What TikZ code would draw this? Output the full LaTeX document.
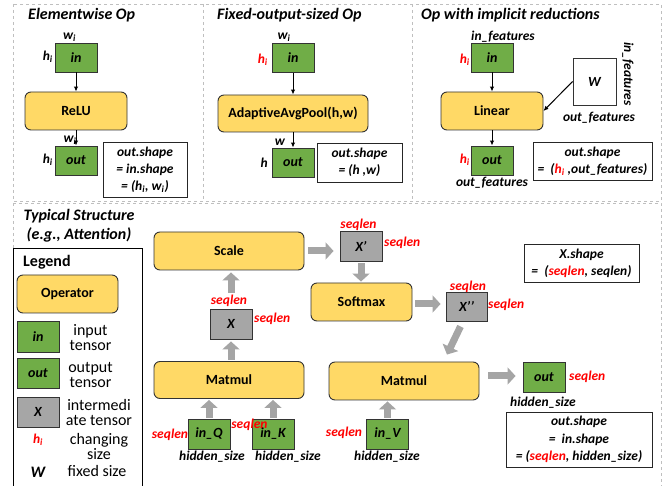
\documentclass[tikz,border=0pt]{standalone}
\usepackage{fontspec}
\setmainfont{Carlito}
\usetikzlibrary{arrows.meta,calc}
\definecolor{opy}{HTML}{FFD966}
\definecolor{tg}{HTML}{70AD47}
\definecolor{tx}{HTML}{A6A6A6}
\definecolor{ar}{HTML}{A5A5A5}
\definecolor{pb}{HTML}{BFBFBF}
\newcommand\hsub{h\textsubscript{i}}
\newcommand\wsub{w\textsubscript{i}}
\begin{document}
\begin{tikzpicture}[x=1pt,y=-1pt,
  box/.style={draw=black!80, line width=0.9pt, inner sep=0pt},
  op/.style={box, fill=opy, rounded corners=6pt, font=\bfseries\fontsize{14}{16}\selectfont},
  tin/.style={box, fill=tg, font=\bfseries\itshape\fontsize{14}{16}\selectfont, minimum width=42pt, minimum height=29pt},
  tmid/.style={tin, fill=tx},
  lbl/.style={inner sep=0pt, font=\bfseries\itshape\fontsize{13.5}{15}\selectfont},
  rl/.style={lbl, text=red},
  note/.style={draw=black!85, line width=0.8pt, fill=white, align=center, inner sep=0pt, font=\bfseries\itshape\fontsize{13.5}{17}\selectfont},
  ttl/.style={inner sep=0pt, font=\bfseries\itshape\fontsize{16}{19}\selectfont},
  desc/.style={inner sep=0pt, align=center, font=\fontsize{16}{15}\selectfont},
  thinar/.style={-{Latex[length=5pt,width=4.5pt]}, line width=1pt, black},
  blk/.style={line width=7pt, draw=ar, -{Triangle[length=8pt,width=17pt]}},
  panel/.style={draw=pb, dashed, line width=0.8pt}
]
\useasboundingbox (0,0) rectangle (667,486);
% panels
\draw[panel] (13,4) rectangle (661,201);
\draw[panel] (203,4) -- (203,201);
\draw[panel] (412,4) -- (412,201);
\draw[panel] (13,203) -- (661,203) -- (661,490);
\draw[panel] (13,203) -- (13,248);
% titles
\node[ttl, anchor=west] (t1) at (28,15) {Elementwise Op};
\node[ttl, anchor=west] (t2) at (217,15) {Fixed-output-sized Op};
\node[ttl, anchor=west] (t3) at (421,15) {Op with implicit reductions};
% panel 1
\node[tin] (in1) at (76,57.5) {in};
\node[lbl] (w1a) at (69.5,37) {\wsub};
\node[lbl, anchor=east] (h1a) at (53,57) {\hsub};
\node[op, minimum width=102pt, minimum height=38pt] (relu) at (76,111) {ReLU};
\node[tin] (out1) at (76,160.5) {out};
\node[lbl] (w1b) at (70,140) {\wsub};
\node[lbl, anchor=east] (h1b) at (53,160) {\hsub};
\draw[thinar] (in1) -- (relu);
\draw[thinar] (relu) -- (out1);
\node[note, minimum width=84pt, minimum height=55pt] (n1) at (145,169.5) {out.shape\\= in.shape\\= (\hsub, \wsub)};
% panel 2
\node[tin] (in2) at (293,58) {in};
\node[lbl] (w2a) at (284,37) {\wsub};
\node[rl, anchor=east] (h2a) at (268,60) {\hsub};
\node[op, minimum width=150pt, minimum height=37pt] (pool) at (293,113.5) {AdaptiveAvgPool(h,w)};
\node[tin] (out2) at (293,162.5) {out};
\node[lbl] (w2b) at (280,142) {w};
\node[lbl, anchor=east] (h2b) at (268,163) {h};
\draw[thinar] (in2) -- (pool);
\draw[thinar] (pool) -- (out2);
\node[note, minimum width=85pt, minimum height=39pt] (n2) at (359.5,162.5) {out.shape\\= (h ,w)};
% panel 3
\node[tin] (in3) at (492,57.5) {in};
\node[lbl] (f3a) at (503,37) {in\_features};
\node[rl, anchor=east] (h3a) at (470,60) {\hsub};
\node[op, minimum width=102pt, minimum height=38pt] (lin) at (492,111) {Linear};
\node[box, fill=white, minimum width=43pt, minimum height=47pt, font=\bfseries\itshape\fontsize{14}{16}\selectfont] (W) at (594.5,81.5) {W};
\node[lbl, rotate=-90] (f3b) at (628,74) {in\_features};
\node[lbl] (f3c) at (599,118) {out\_features};
\draw[thinar] (W.west) -- (lin.east);
\node[tin] (out3) at (492,160.5) {out};
\node[rl, anchor=east] (h3b) at (470,160) {\hsub};
\node[lbl] (f3d) at (492,183) {out\_features};
\draw[thinar] (in3) -- (lin);
\draw[thinar] (lin) -- (out3);
\node[note, minimum width=119pt, minimum height=38pt] (n3) at (592.5,161) {out.shape\\= ~(\textcolor{red}{\hsub} ,out\_features)};
% bottom panel
\node[ttl] (t4) at (79,216) {Typical Structure};
\node[ttl] (t5) at (79,235) {(e.g., Attention)};
\draw[line width=0.9pt] (13,248) rectangle (142,495);
\node[font=\bfseries\fontsize{16}{19}\selectfont, anchor=west, inner sep=0pt] (lg) at (23,262) {Legend};
\node[op, minimum width=101pt, minimum height=38pt] (lop) at (67.5,294) {Operator};
\node[tin, minimum height=31pt] (lin1) at (38,336.5) {in};
\node[desc] (d1) at (90.5,338) {input\\tensor};
\node[tin, minimum height=30pt] (lout) at (38,373) {out};
\node[desc] (d2) at (90.5,375) {output\\tensor};
\node[tmid, minimum height=30pt] (lx) at (38,412) {X};
\node[desc] (d3) at (99,413) {intermedi\\ate tensor};
\node[rl] (lh) at (38,440) {\hsub};
\node[desc] (d4) at (99,447) {changing\\size};
\node[lbl, font=\bfseries\itshape\fontsize{16}{18}\selectfont] (lw) at (38,472) {W};
\node[desc] (d5) at (97,471) {fixed size};
% attention
\node[op, minimum width=150pt, minimum height=38pt] (scale) at (229,251) {Scale};
\node[tmid, minimum height=30pt] (xp) at (361,246) {X’};
\node[rl] (s1) at (358.5,225) {seqlen};
\node[rl, anchor=west] (s2) at (384,243) {seqlen};
\draw[blk] ($(scale.east)+(4,0)$) -- ($(xp.west|-scale.east)+(-6,0)$);
\node[op, minimum width=101pt, minimum height=38pt] (soft) at (361.5,302) {Softmax};
\draw[blk] ($(xp.south)+(0,2)$) -- ($(xp.south|-soft.north)+(0,-1)$);
\node[tmid, minimum height=30pt] (x1) at (231,324) {X};
\node[rl] (s3) at (229,301) {seqlen};
\node[rl, anchor=west] (s4) at (254,319) {seqlen};
\draw[blk] ($(x1.north)+(0,-16)$) -- ($(x1.north|-scale.south)+(0,2)$);
\node[op, minimum width=150pt, minimum height=37pt] (mm1) at (229,380) {Matmul};
\draw[blk] ($(x1.south|-mm1.north)+(0,-1)$) -- ($(x1.south)+(0,2)$);
\node[tin, minimum height=30pt] (iq) at (209,434) {in\_Q};
\node[tin, minimum height=30pt] (ik) at (273,434) {in\_K};
\draw[blk] ($(iq.north)+(0,-1)$) -- ($(iq.north|-mm1.south)+(0,1)$);
\draw[blk] ($(ik.north)+(0,-1)$) -- ($(ik.north|-mm1.south)+(0,1)$);
\node[rl] (s5) at (170,435) {seqlen};
\node[rl] (s6) at (249.5,425) {seqlen};
\node[lbl] (hs1) at (212,457) {hidden\_size};
\node[lbl] (hs2) at (288,457) {hidden\_size};
\node[op, minimum width=150pt, minimum height=38pt] (mm2) at (404,381) {Matmul};
\node[tin, minimum height=30pt] (iv) at (387.5,434) {in\_V};
\draw[blk] ($(iv.north)+(0,-1)$) -- ($(iv.north|-mm2.south)+(0,1)$);
\node[rl] (s7) at (344,433) {seqlen};
\node[lbl] (hs3) at (387,457) {hidden\_size};
\node[tmid, minimum width=41pt, minimum height=29pt] (xpp) at (466.5,306.5) {X’’};
\draw[blk] ($(soft.east)+(3,2)$) -- ($(xpp.west|-soft.east)+(-5,2)$);
\node[rl] (s8) at (468,287) {seqlen};
\node[rl, anchor=west] (s9) at (488,305) {seqlen};
\draw[blk] ($(xpp.south)+(-6,5)$) -- ($(mm2.north)+(43,-7)$);
\node[note, minimum width=115pt, minimum height=38pt] (n4) at (581.5,263) {X.shape\\= ~(\textcolor{red}{seqlen}, seqlen)};
\node[tin, minimum height=30pt] (out4) at (544,377) {out};
\draw[blk] ($(mm2.east)+(9,-5)$) -- ($(out4.west|-mm2.east)+(-7,-5)$);
\node[rl, anchor=west] (s10) at (569,377) {seqlen};
\node[lbl] (hs4) at (543,403) {hidden\_size};
\node[note, minimum width=146pt, minimum height=55pt, font=\bfseries\itshape\fontsize{13.5}{17.5}\selectfont] (n5) at (579,439.5) {out.shape\\= ~in.shape\\= (\textcolor{red}{seqlen}, hidden\_size)};
\end{tikzpicture}
\end{document}
